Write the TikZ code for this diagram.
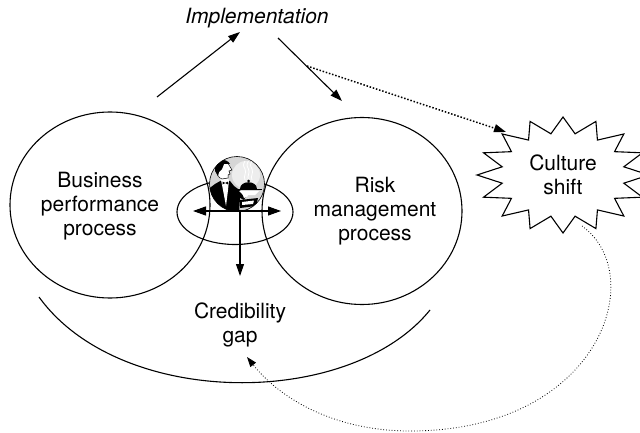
\documentclass[tikz,border=0pt]{standalone}
\usepackage{fontspec}
\setmainfont{TeX Gyre Heros}
\usetikzlibrary{arrows.meta,shapes.geometric}
\begin{document}
\begin{tikzpicture}[x=1pt,y=-1pt,
  line/.style={line width=1.1pt},
  tip/.style={-{Triangle[length=12pt,width=8pt]}},
  twotip/.style={{Triangle[length=13pt,width=9pt]}-{Triangle[length=13pt,width=9pt]}},
  dottop/.style={line width=1.5pt,dash pattern=on 1.5pt off 1.8pt,
                 -{Triangle[length=12pt,width=8pt]}},
  dotloop/.style={line width=0.8pt,dash pattern=on 0.8pt off 2pt,
                  -{Triangle[length=10pt,width=7pt]}},
  ring/.style={draw,ellipse,line width=1.1pt,inner sep=0pt,outer sep=0pt},
  lbl/.style={font=\fontsize{21}{24}\selectfont,align=center,inner sep=0pt}]
\useasboundingbox (0,0) rectangle (640,433);

% the two process circles and the overlap ellipse
\node[ring,minimum width=200pt,minimum height=186pt] (business) at (110,205) {};
\node[ring,minimum width=200pt,minimum height=187pt] (risk) at (362,211) {};
\node[ring,minimum width=116pt,minimum height=65pt] (overlap) at (235,212) {};

% waiter icon in the overlap
\begin{scope}[shift={(237,184)}]
  \fill[gray!32] (0,0) circle[radius=27.5pt];
  \fill[gray!14] (9,-9) circle[radius=14pt];
  \begin{scope}
    \clip (0,0) circle[radius=27.5pt];
    % jacket
    \fill[black] (-30,6) -- (-22,0) -- (-15,-4) -- (-7,-3) -- (-3,2) -- (5,8)
      -- (9,12) -- (7,16) -- (3,14) -- (2,30) -- (-30,30) -- cycle;
    % shirt front and bow tie
    \fill[white] (-16,-4) -- (-8,-4) -- (-9,6) -- (-11,22) -- (-14,6) -- cycle;
    \fill[black] (-14.5,-2.5) -- (-9,0.5) -- (-9,-2.5) -- (-14.5,0.5) -- cycle;
    % neck and head
    \fill[white] (-18,-8) -- (-10,-8) -- (-8,-3) -- (-16,-3) -- cycle;
    \filldraw[fill=white,draw=black,line width=.5pt]
      (-21,-14) .. controls (-21,-23) and (-11,-25) .. (-8,-19)
      -- (-5,-14) -- (-8,-13) -- (-7,-10) -- (-9,-9) -- (-9,-6)
      -- (-15,-5) .. controls (-19,-7) .. (-21,-14);
    \fill[black] (-22,-13) .. controls (-23,-25) and (-11,-27) .. (-7,-20)
      -- (-13,-20) -- (-15,-15) -- (-18,-12) -- (-19,-8) -- cycle;
    % steam
    \foreach \sx in {8,11.5,15}
      \draw[white,line width=.8pt] (\sx,-4) .. controls (\sx-2,-8) and (\sx+2,-11)
        .. (\sx,-15) .. controls (\sx-2,-19) .. (\sx,-23);
    % cloche on tray
    \fill[black] (3,5) .. controls (3,-4) and (20,-4) .. (20,5) -- cycle;
    \fill[black] (11.5,-3) circle[radius=1.5pt];
    \draw[black,line width=1.2pt] (-1,5.5) -- (25,5.5);
    \fill[white] (2,7) -- (22,7) -- (18,11) -- (6,11) -- cycle;
    % sleeve cuff and hand
    \fill[white] (5,9) -- (9,8) -- (11,12) -- (7,14) -- cycle;
    \fill[black] (3,16) -- (21,14) -- (19,22) -- (3,24) -- cycle;
    \fill[white] (5,18) -- (17,16.5) -- (16,20) -- (5,21) -- cycle;
  \end{scope}
  \draw[line width=.6pt] (0,0) circle[radius=27.5pt];
\end{scope}

% culture shift starburst
\coordinate (burst) at (563,175);
\draw[line,fill=white] (649,175)
  \foreach \i in {1,...,16} {
    -- ({563+62*cos(\i*22.5-11.25)},{175-42*sin(\i*22.5-11.25)})
    -- ({563+86*cos(\i*22.5)},{175-58*sin(\i*22.5)})
  } -- cycle;

% labels
\node[lbl,font=\fontsize{21}{24}\selectfont\itshape] (impl) at (257,18) {Implementation};
\node[lbl] (bpp) at (100,206) {Business\\performance\\process};
\node[lbl] (rmp) at (375,211) {Risk\\management\\process};
\node[lbl] (gap) at (240,325) {Credibility\\gap};
\node[lbl] (shift) at (burst) {Culture\\shift};

% implementation arrows
\coordinate (bppTop) at (157,97);
\coordinate (implIn) at (240,32);
\coordinate (implOut) at (278,38);
\coordinate (rmpTop) at (342,101);
\coordinate (branch) at (307,66);
\coordinate (burstIn) at (506,132);
\draw[line,tip] (bppTop) -- (implIn);
\draw[line,tip] (implOut) -- (rmpTop);
\draw[dottop] (branch) -- (burstIn);

% overlap arrows
\coordinate (ovL) at (193,211);
\coordinate (ovR) at (281,211);
\coordinate (ovC) at (240,211);
\coordinate (gapTop) at (240,276);
\draw[line,twotip] (ovL) -- (ovR);
\draw[line,tip] (ovC) -- (gapTop);

% credibility gap arc
\coordinate (arcL) at (39,297);
\coordinate (arcR) at (430,310);
\draw[line] (arcL) .. controls (120,409) and (350,409) .. (arcR);

% feedback loop from the culture shift back to the gap
\coordinate (burstOut) at (582,226);
\coordinate (loopLow) at (410,431);
\coordinate (gapIn) at (247,357);
\draw[dotloop] (burstOut) .. controls (650,275) and (600,431) .. (loopLow)
  .. controls (330,431) and (277,395) .. (gapIn);
\end{tikzpicture}
\end{document}
